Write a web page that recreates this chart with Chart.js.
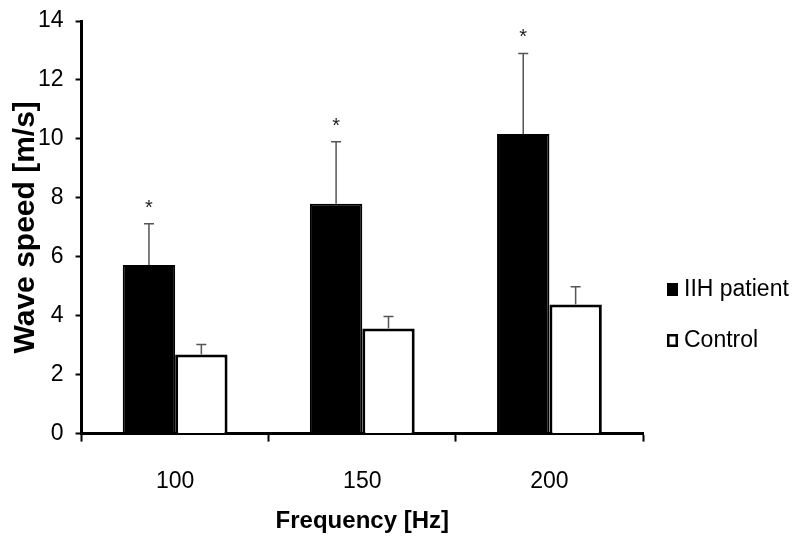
<!DOCTYPE html>
<html>
<head>
<meta charset="utf-8">
<script src="https://cdn.jsdelivr.net/npm/chart.js@4/dist/chart.umd.min.js"></script>
<style>
  body { margin: 0; background: #fff; }
  #wrap { width: 800px; height: 544px; }
</style>
</head>
<body>
<div id="wrap"><canvas id="speedChart" width="800" height="544"></canvas></div>
<script>
// valeurs
var categories = ["100", "150", "200"];
var seriesNames = ["IIH patient", "Control"];
var iihMean = [5.72, 7.8, 10.17];
var iihErr = [1.4, 2.1, 2.73];
var controlMean = [2.68, 3.57, 4.38];
var controlErr = [0.34, 0.4, 0.6];
var significant = [true, true, true];
var yMin = 0, yMax = 14, yStep = 2;

var ctx = document.querySelector("#speedChart");
var FONT = "'Liberation Sans', Arial, sans-serif";

// barres d'erreur (vers le haut seulement) + asterisques
var errorBars = {
  id: "errorBars",
  afterDatasetsDraw(chart) {
    var c = chart.ctx;
    var yScale = chart.scales.y;
    var errs = [iihErr, controlErr];
    c.save();
    chart.data.datasets.forEach((ds, i) => {
      var meta = chart.getDatasetMeta(i);
      meta.data.forEach((bar, j) => {
        var top = yScale.getPixelForValue(ds.data[j] + errs[i][j]);
        var base = yScale.getPixelForValue(ds.data[j]);
        c.strokeStyle = "#555";
        c.lineWidth = 1.5;
        c.beginPath();
        c.moveTo(bar.x, base);
        c.lineTo(bar.x, top);
        c.moveTo(bar.x - 5, top);
        c.lineTo(bar.x + 5, top);
        c.stroke();
        if (i === 0 && significant[j]) {
          c.fillStyle = "#222";
          c.font = "20px " + FONT;
          c.textAlign = "center";
          c.textBaseline = "alphabetic";
          c.fillText("*", bar.x, top - 10);
        }
      });
    });
    c.restore();
  }
};

// legende a droite
var sideLegend = {
  id: "sideLegend",
  afterDraw(chart) {
    var c = chart.ctx;
    var x = 667;
    var ys = [289, 340];
    c.save();
    chart.data.datasets.forEach((ds, i) => {
      c.fillStyle = ds.backgroundColor;
      c.fillRect(x, ys[i] - 6, 11, 13);
      c.strokeStyle = "#000";
      c.lineWidth = 2.5;
      c.strokeRect(x + 1.25, ys[i] - 4.75, 8.5, 10.5);
      c.fillStyle = "#000";
      c.font = "23px " + FONT;
      c.textAlign = "left";
      c.textBaseline = "middle";
      c.fillText(ds.label, x + 17, ys[i] + 1);
    });
    c.restore();
  }
};

var speedChart = new Chart(ctx, {
  type: "bar",
  data: {
    labels: categories,
    datasets: [
      {
        label: seriesNames[0],
        data: iihMean,
        backgroundColor: "#000",
        borderColor: "#000",
        borderWidth: 2
      },
      {
        label: seriesNames[1],
        data: controlMean,
        backgroundColor: "#fff",
        borderColor: "#000",
        borderWidth: 3
      }
    ]
  },
  options: {
    responsive: false,
    animation: false,
    categoryPercentage: 0.56,
    barPercentage: 1.0,
    layout: { padding: { left: 8, right: 157, top: 0, bottom: 8 } },
    plugins: {
      legend: { display: false },
      tooltip: { enabled: false }
    },
    scales: {
      x: {
        grid: {
          drawOnChartArea: false,
          drawTicks: true,
          tickLength: 8,
          tickWidth: 2,
          tickColor: "#000",
          offset: true
        },
        border: { color: "#000", width: 3 },
        ticks: { color: "#000", padding: 26, font: { family: FONT, size: 23 } },
        title: {
          display: true,
          text: "Frequency [Hz]",
          color: "#000",
          padding: { top: -14, bottom: 0 },
          font: { family: FONT, size: 24, weight: "bold" }
        }
      },
      y: {
        min: yMin,
        max: yMax,
        afterFit: (scale) => { scale.paddingTop = 21; },
        ticks: { stepSize: yStep, color: "#000", padding: 12, font: { family: FONT, size: 23 } },
        grid: {
          drawOnChartArea: false,
          drawTicks: true,
          tickLength: 6,
          tickWidth: 2,
          tickColor: "#000"
        },
        border: { color: "#000", width: 3 },
        title: {
          display: true,
          text: "Wave speed [m/s]",
          color: "#000",
          padding: { top: 0, bottom: -18 },
          font: { family: FONT, size: 30, weight: "bold" }
        }
      }
    }
  },
  plugins: [errorBars, sideLegend]
});
</script>
</body>
</html>
